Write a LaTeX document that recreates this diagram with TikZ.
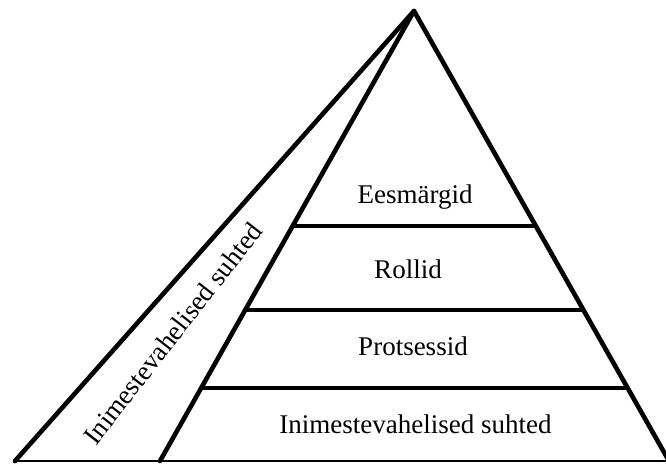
\documentclass[tikz,border=0pt]{standalone}
\usepackage{fontspec}
\setmainfont{Liberation Serif}
\usetikzlibrary{calc}
\begin{document}
\begin{tikzpicture}[x=1pt,y=-1pt,
  edge/.style={line width=4.6pt,line join=round,line cap=round},
  baseline edge/.style={line width=2.6pt},
  label/.style={font=\fontsize{27}{30}\selectfont,inner sep=0pt,anchor=base}]
\useasboundingbox (0,0) rectangle (666,463);
\fill[white] (0,0) rectangle (666,463);
\coordinate (A) at (414,11);
\coordinate (L) at (15,461);
\coordinate (I) at (160,461);
\coordinate (R) at (669,461);
\coordinate (E) at (666,461);
\coordinate (a1) at ($(A)!0.4778!(I)$);
\coordinate (b1) at ($(A)!0.4778!(R)$);
\coordinate (a2) at ($(A)!0.6644!(I)$);
\coordinate (b2) at ($(A)!0.6644!(R)$);
\coordinate (a3) at ($(A)!0.8378!(I)$);
\coordinate (b3) at ($(A)!0.8378!(R)$);
\draw[baseline edge] (L) -- (E);
\draw[edge] (L) -- (A) -- (R);
\draw[edge] (A) -- (I);
\draw[edge,line cap=butt] (a1) -- (b1);
\draw[edge,line cap=butt] (a2) -- (b2);
\draw[edge,line cap=butt] (a3) -- (b3);
\node[label] (t1) at (415,203) {Eesmärgid};
\node[label] (t2) at (408,278) {Rollid};
\node[label] (t3) at (413,355) {Protsessid};
\node[label] (t4) at (415.5,433) {Inimestevahelised suhted};
\node[label,rotate=52] (t5) at (180,339) {Inimestevahelised suhted};
\end{tikzpicture}
\end{document}
